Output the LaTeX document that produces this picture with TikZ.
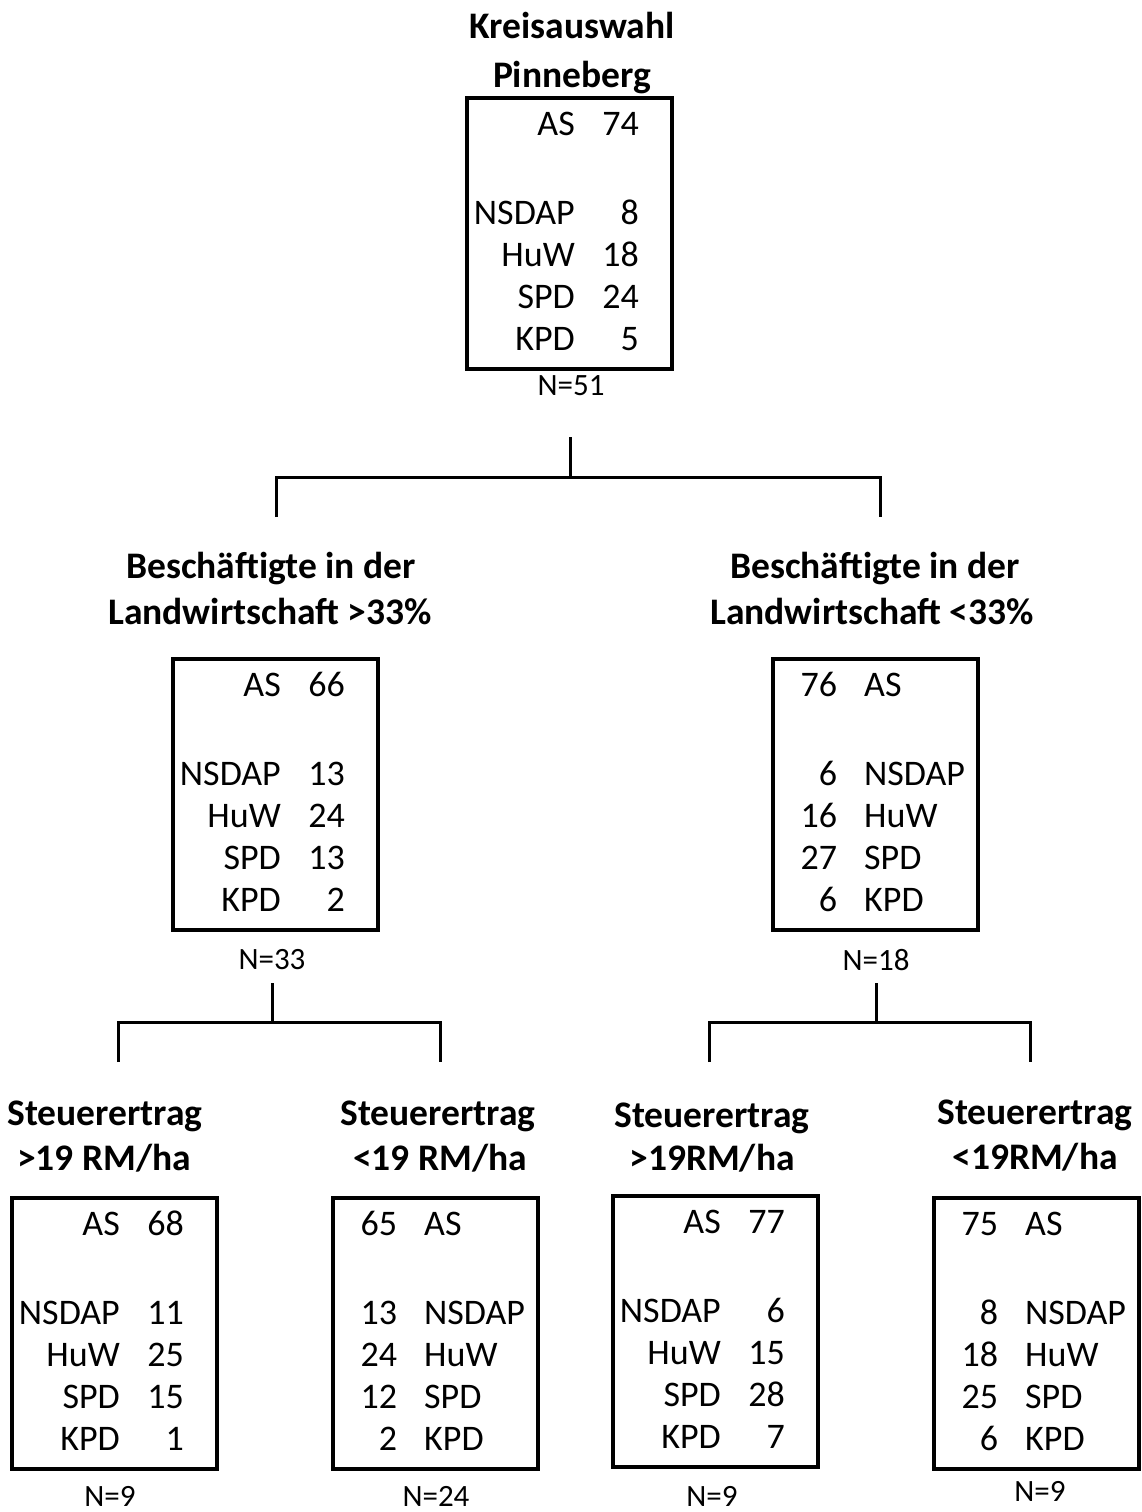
\documentclass[tikz,border=0pt]{standalone}
\usepackage{fontspec}
\setmainfont{Carlito}
\usepackage{array}
\usepackage{tikz}

\newcommand{\stimmenL}[5]{%
  \begin{tabular}[t]{@{}r@{}>{\raggedleft\arraybackslash}p{64pt}@{}}
    AS & #1\\[47pt]
    NSDAP & #2\\
    HuW & #3\\
    SPD & #4\\
    KPD & #5
  \end{tabular}}
\newcommand{\stimmenR}[5]{%
  \begin{tabular}[t]{@{}>{\raggedleft\arraybackslash}p{64pt}@{\hspace{27pt}}l@{}}
    #1 & AS\\[47pt]
    #2 & NSDAP\\
    #3 & HuW\\
    #4 & SPD\\
    #5 & KPD
  \end{tabular}}

\begin{document}
\begin{tikzpicture}[x=1pt,y=-1pt,
  box/.style={draw,line width=4pt,minimum width=205pt,minimum height=271pt,inner sep=0pt},
  head/.style={anchor=base,font=\fontsize{37.5}{47}\selectfont\bfseries},
  rows/.style={inner sep=0pt,font=\fontsize{36}{42}\selectfont},
  nlab/.style={font=\fontsize{31}{36}\selectfont},
  bracket/.style={line width=3pt}]
  \useasboundingbox (0,0) rectangle (1141,1512);

  % Kreis
  \node (kreis) at (572,39) [head] {Kreisauswahl};
  \node (pinne) at (572,87) [head] {Pinneberg};
  \node (box0) at (569.5,233.5) [box] {};
  \node (tab0) at (639,135) [rows,anchor=base east] {\stimmenL{74}{8}{18}{24}{5}};
  \node (n0) at (571,386) [nlab] {N=51};

  \coordinate (s0) at (570,437);
  \coordinate (j0) at (570,477);
  \coordinate (dl0) at (276,517);
  \coordinate (dr0) at (880,517);
  \draw[bracket] (s0) -- (j0);
  \draw[bracket] (dl0) |- (j0) -| (dr0);

  % Landwirtschaft >33%
  \node (bl1) at (271,578) [head] {Beschäftigte in der};
  \node (bl2) at (270,624) [head] {Landwirtschaft >33\%};
  \node (boxl) at (275.5,794.5) [box] {};
  \node (tabl) at (345,696) [rows,anchor=base east] {\stimmenL{66}{13}{24}{13}{2}};
  \node (nl) at (272,960) [nlab] {N=33};

  % Landwirtschaft <33%
  \node (br1) at (875,578) [head] {Beschäftigte in der};
  \node (br2) at (872,624) [head] {Landwirtschaft <33\%};
  \node (boxr) at (875.5,794.5) [box] {};
  \node (tabr) at (773,696) [rows,anchor=base west] {\stimmenR{76}{6}{16}{27}{6}};
  \node (nr) at (876,960) [nlab] {N=18};

  \coordinate (sl) at (272,983);
  \coordinate (jl) at (272,1022);
  \coordinate (dll) at (118,1062);
  \coordinate (dlr) at (440,1062);
  \draw[bracket] (sl) -- (jl);
  \draw[bracket] (dll) |- (jl) -| (dlr);

  \coordinate (sr) at (876,983);
  \coordinate (jr) at (876,1022);
  \coordinate (drl) at (709,1062);
  \coordinate (drr) at (1030,1062);
  \draw[bracket] (sr) -- (jr);
  \draw[bracket] (drl) |- (jr) -| (drr);

  % Steuerertrag
  \node (s1a) at (105,1125) [head] {Steuerertrag};
  \node (s1b) at (104,1170) [head] {>19 RM/ha};
  \node (box1) at (114.5,1333.5) [box] {};
  \node (tab1) at (184,1235) [rows,anchor=base east] {\stimmenL{68}{11}{25}{15}{1}};
  \node (n1) at (110,1496) [nlab] {N=9};

  \node (s2a) at (438,1125) [head] {Steuerertrag};
  \node (s2b) at (440,1170) [head] {<19 RM/ha};
  \node (box2) at (435.5,1333.5) [box] {};
  \node (tab2) at (333,1235) [rows,anchor=base west] {\stimmenR{65}{13}{24}{12}{2}};
  \node (n2) at (436,1496) [nlab] {N=24};

  \node (s3a) at (712,1127) [head] {Steuerertrag};
  \node (s3b) at (712,1170) [head] {>19RM/ha};
  \node (box3) at (715.5,1331.5) [box] {};
  \node (tab3) at (785,1233) [rows,anchor=base east] {\stimmenL{77}{6}{15}{28}{7}};
  \node (n3) at (712,1496) [nlab] {N=9};

  \node (s4a) at (1035,1124) [head] {Steuerertrag};
  \node (s4b) at (1035,1169) [head] {<19RM/ha};
  \node (box4) at (1036.5,1333.5) [box] {};
  \node (tab4) at (934,1235) [rows,anchor=base west] {\stimmenR{75}{8}{18}{25}{6}};
  \node (n4) at (1040,1491) [nlab] {N=9};
\end{tikzpicture}
\end{document}
